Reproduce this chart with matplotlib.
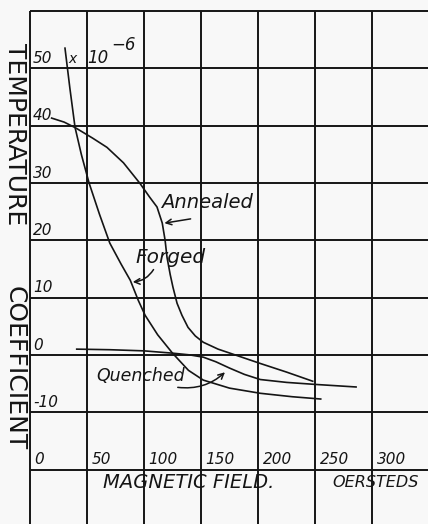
#Importing needed modules
import numpy as np
import matplotlib.pyplot as plt

#Data (field in oersteds, coefficient in units of 10^-6)
annealed_x=[19,30,40,55,67.5,82,96.5,105,111.4,116,118.5,120.2,123,125.4,129,133.3,138.6,145,152,165,175.4,202,225,248]
annealed_y=[41.3,40.6,39.6,37.8,36.2,33.5,29.9,27.5,25.8,23,20,17,14,11.8,9,6.9,4.8,3.3,2.2,1.0,0.3,-1.5,-3.0,-4.6]

forged_x=[30.7,35,39.5,45,51.8,61,70,80,88,95,101,112,125,139,152,175,202,230,255]
forged_y=[53.5,46.5,39.7,35,30,24.5,19.5,15.8,13,9.5,6.9,3.5,0.3,-2.7,-4.4,-5.8,-6.7,-7.3,-7.7]

quenched_x=[41,70,100,125,140,152,163,175,188,202,225,250,286]
quenched_y=[1.0,0.9,0.7,0.3,0,-0.4,-1.2,-2.3,-3.4,-4.3,-4.8,-5.15,-5.6]

x_ticks=[0,50,100,150,200,250,300]
x_tick_labels=['0','50','100','150','200','250','300']
y_ticks=[50,40,30,20,10,0,-10]
y_tick_labels=['50','40','30','20','10','0','-10']
y_grid=[60,50,40,30,20,10,0,-10,-20]

#Figure covers the whole sheet, axes limits chosen so the grid sits like the scan
fig=plt.figure(figsize=(4.28,5.24),dpi=100)
fig.patch.set_facecolor('#f8f8f8')
ax=fig.add_axes([0,0,1,1])
ax.set_facecolor('#f8f8f8')
ax.set_xlim(-26.3,349.1)
ax.set_ylim(-29.5,61.9)
ax.axis('off')

ink='#151515'

#Grid lines
for v in x_ticks:
    ax.plot([v,v],[60,-29.5],color=ink,lw=1.4,solid_capstyle='butt')
for h in y_grid:
    ax.plot([0,349.1],[h,h],color=ink,lw=1.4,solid_capstyle='butt')

#Curves
ax.plot(annealed_x,annealed_y,color=ink,lw=1.2)
ax.plot(forged_x,forged_y,color=ink,lw=1.2)
ax.plot(quenched_x,quenched_y,color=ink,lw=1.2)

hand=dict(family='DejaVu Sans',style='oblique',color=ink)

#Tick labels
for v,lab in zip(y_ticks,y_tick_labels):
    ax.text(2.6,v+0.4,lab,fontsize=11,ha='left',va='bottom',**hand)
for v,lab in zip(x_ticks,x_tick_labels):
    ax.text(v+4,-20+0.4,lab,fontsize=11,ha='left',va='bottom',**hand)

#Scale note
ax.text(37,50.4,'x',fontsize=10,ha='center',va='bottom',**hand)
ax.text(50.5,50.2,'10',fontsize=12,ha='left',va='bottom',**hand)
ax.text(71,52.4,'\u22126',fontsize=12,ha='left',va='bottom',**hand)

#Curve labels and arrows
ax.text(155.3,26.6,'Annealed',fontsize=14,ha='center',va='center',**hand)
ax.annotate('',xy=(115.5,22.9),xytext=(143.3,23.8),
            arrowprops=dict(arrowstyle='->',color=ink,lw=1.1))
ax.text(123,17.0,'Forged',fontsize=14.5,ha='center',va='center',**hand)
ax.annotate('',xy=(87.7,12.7),xytext=(109.6,15.3),
            arrowprops=dict(arrowstyle='->',color=ink,lw=1.1,connectionstyle='arc3,rad=-0.3'))
ax.text(97.4,-3.7,'Quenched',fontsize=12.5,ha='center',va='center',**hand)
ax.annotate('',xy=(172.8,-2.7),xytext=(127.2,-5.6),
            arrowprops=dict(arrowstyle='->',color=ink,lw=1.1,connectionstyle='arc3,rad=0.25'))

#Axis titles
ax.text(64,-22.2,'MAGNETIC FIELD.',fontsize=14,ha='left',va='center',**hand)
ax.text(303,-22.2,'OERSTEDS',fontsize=11.5,ha='center',va='center',**hand)
ax.text(-13.2,38.5,'TEMPERATURE',fontsize=18,rotation=-90,ha='center',va='center',family='DejaVu Sans',color=ink)
ax.text(-13.2,-2.3,'COEFFICIENT',fontsize=18,rotation=-90,ha='center',va='center',family='DejaVu Sans',color=ink)

plt.savefig('out.png',dpi=100,facecolor=fig.get_facecolor())
